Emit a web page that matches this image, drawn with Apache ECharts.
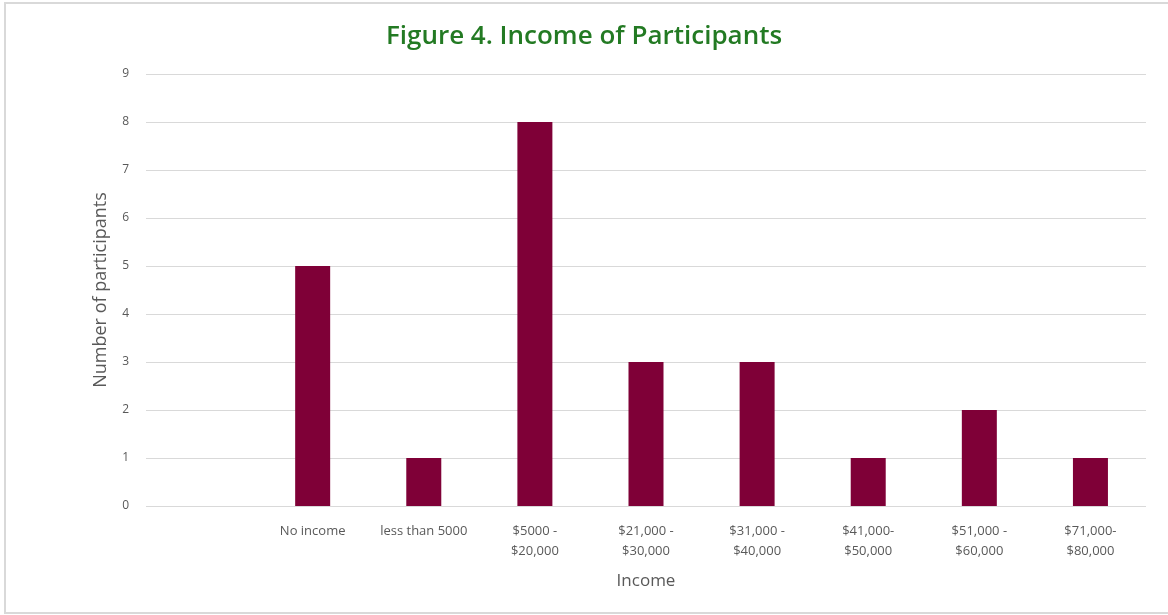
<!DOCTYPE html>
<html>
<head>
<meta charset="utf-8">
<script src="https://cdn.jsdelivr.net/npm/echarts@6/dist/echarts.min.js"></script>
<style>
  html, body { margin: 0; padding: 0; background: #fff; }
  #chart { width: 1168px; height: 615px; }
</style>
</head>
<body>
<div id="chart"></div>
<script>
// Income brackets (leading blank slot leaves the first band empty)
const categories = ['', 'No income', 'less than 5000', '$5000 -\n$20,000', '$21,000 -\n$30,000',
  '$31,000 -\n$40,000', '$41,000-\n$50,000', '$51,000 -\n$60,000', '$71,000-\n$80,000'];
// Number of participants per bracket
const participants = ['-', 5, 1, 8, 3, 3, 1, 2, 1];
const yTicks = [0, 1, 2, 3, 4, 5, 6, 7, 8, 9];

const labelFont = '"Open Sans", "Noto Sans", sans-serif';
const chart = echarts.init(document.getElementById('chart'), null, { renderer: 'canvas' });
chart.setOption({
  animation: false,
  backgroundColor: '#fff',
  title: {
    text: 'Figure 4. Income of Participants',
    left: 'center',
    top: 19,
    textStyle: { color: '#237a23', fontSize: 26, fontWeight: 600, fontFamily: labelFont }
  },
  graphic: [{
    type: 'rect',
    shape: { x: 5, y: 3, width: 1170, height: 610 },
    style: { fill: 'none', stroke: '#d9d9d9', lineWidth: 2 },
    silent: true
  }],
  grid: { left: 146, right: 22, top: 74, bottom: 109 },
  xAxis: {
    type: 'category',
    data: categories,
    name: 'Income',
    nameLocation: 'middle',
    nameGap: 67,
    nameTextStyle: { color: '#595959', fontSize: 17, fontFamily: labelFont },
    axisLine: { show: false },
    axisTick: { show: false },
    axisLabel: { color: '#595959', fontSize: 13, fontFamily: labelFont, margin: 15, lineHeight: 20, interval: 0 }
  },
  yAxis: {
    type: 'value',
    min: yTicks[0],
    max: yTicks[yTicks.length - 1],
    interval: 1,
    name: 'Number of participants',
    nameLocation: 'middle',
    nameGap: 36,
    nameTextStyle: { color: '#595959', fontSize: 18, fontFamily: labelFont },
    axisLine: { show: false },
    axisTick: { show: false },
    axisLabel: { color: '#595959', fontSize: 12, fontFamily: labelFont, margin: 17 },
    splitLine: { lineStyle: { color: '#d9d9d9', width: 1 } }
  },
  series: [{
    type: 'bar',
    data: participants,
    barWidth: 35,
    itemStyle: { color: '#7f0037' }
  }]
});
</script>
</body>
</html>
